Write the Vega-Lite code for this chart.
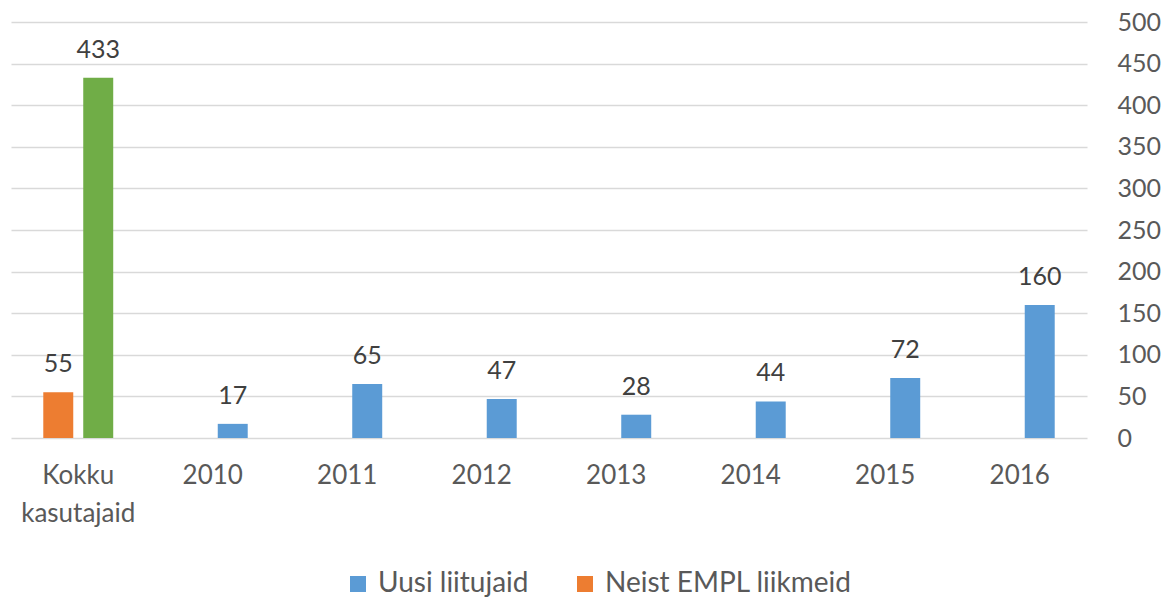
{
  "$schema": "https://vega.github.io/schema/vega-lite/v6.json",
  "width": 1076,
  "height": 416,
  "autosize": {"type": "none"},
  "padding": {"left": 11, "top": 22, "right": 81, "bottom": 162},
  "background": "white",
  "config": {
    "view": {"stroke": null},
    "font": "Lato",
    "axis": {"labelFont": "Lato", "labelColor": "#595959"},
    "legend": {"labelFont": "Lato"}
  },
  "data": {
    "values": [
      {"category": "Kokku kasutajaid", "series": "Neist EMPL liikmeid", "value": 55},
      {"category": "Kokku kasutajaid", "series": "Uusi liitujaid", "value": 433},
      {"category": "2010", "series": "Uusi liitujaid", "value": 17},
      {"category": "2011", "series": "Uusi liitujaid", "value": 65},
      {"category": "2012", "series": "Uusi liitujaid", "value": 47},
      {"category": "2013", "series": "Uusi liitujaid", "value": 28},
      {"category": "2014", "series": "Uusi liitujaid", "value": 44},
      {"category": "2015", "series": "Uusi liitujaid", "value": 72},
      {"category": "2016", "series": "Uusi liitujaid", "value": 160}
    ]
  },
  "encoding": {
    "x": {
      "field": "category",
      "type": "nominal",
      "sort": ["Kokku kasutajaid", "2010", "2011", "2012", "2013", "2014", "2015", "2016"],
      "scale": {"paddingInner": 0.48, "paddingOuter": 0.24},
      "axis": {
        "title": null,
        "labelAngle": 0,
        "domain": false,
        "ticks": false,
        "labelFontSize": 26,
        "labelPadding": 24,
        "labelLineHeight": 38,
        "labelBaseline": "top",
        "labelExpr": "datum.value == 'Kokku kasutajaid' ? ['Kokku', 'kasutajaid'] : datum.value"
      }
    },
    "xOffset": {
      "field": "series",
      "type": "nominal",
      "sort": ["Neist EMPL liikmeid", "Uusi liitujaid"],
      "scale": {"domain": ["Neist EMPL liikmeid", "Uusi liitujaid"], "paddingInner": 0.25}
    },
    "y": {
      "field": "value",
      "type": "quantitative",
      "scale": {"domain": [0, 500]},
      "axis": {
        "title": null,
        "orient": "right",
        "values": [0, 50, 100, 150, 200, 250, 300, 350, 400, 450, 500],
        "domain": false,
        "ticks": false,
        "labelAlign": "left",
        "labelPadding": 30,
        "labelFontSize": 25,
        "gridColor": "#D9D9D9",
        "gridWidth": 1.5
      }
    }
  },
  "layer": [
    {
      "transform": [{"filter": "!(datum.category == 'Kokku kasutajaid' && datum.series == 'Uusi liitujaid')"}],
      "mark": {"type": "bar"},
      "encoding": {
        "color": {
          "field": "series",
          "type": "nominal",
          "scale": {"domain": ["Uusi liitujaid", "Neist EMPL liikmeid"], "range": ["#5B9BD5", "#ED7D31"]},
          "legend": {
            "title": null,
            "orient": "none",
            "direction": "horizontal",
            "legendX": 333,
            "legendY": 548,
            "symbolType": "square",
            "symbolSize": 256,
            "symbolStrokeWidth": 0,
            "labelFontSize": 28,
            "labelLimit": 0,
            "labelColor": "#595959",
            "labelOffset": 6,
            "columnPadding": 42
          }
        }
      }
    },
    {
      "transform": [{"filter": "datum.category == 'Kokku kasutajaid' && datum.series == 'Uusi liitujaid'"}],
      "mark": {"type": "bar", "color": "#70AD47"}
    },
    {
      "mark": {"type": "text", "baseline": "alphabetic", "dy": -20, "fontSize": 25, "color": "#404040", "font": "Lato"},
      "encoding": {"text": {"field": "value", "type": "quantitative"}}
    }
  ]
}
